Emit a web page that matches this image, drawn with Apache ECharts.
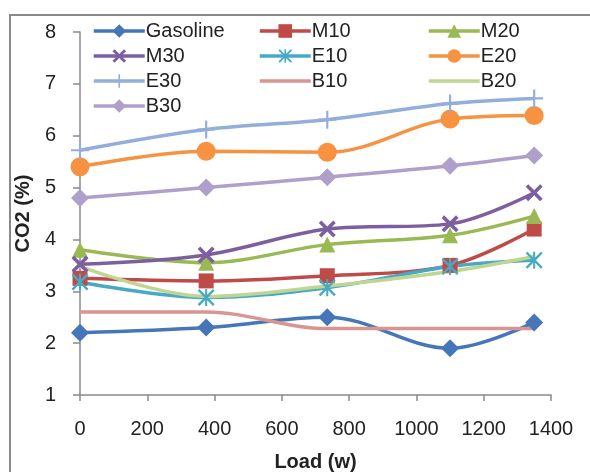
<!DOCTYPE html>
<html>
<head>
<meta charset="utf-8">
<script src="https://cdn.jsdelivr.net/npm/echarts@6/dist/echarts.min.js"></script>
<style>
  html, body { margin: 0; padding: 0; background: #fff; }
  #chart { width: 590px; height: 472px; }
</style>
</head>
<body>
<div id="chart"></div>
<script>
  // load (w)
  const loads = [0, 375, 735, 1100, 1350]

  const gasoline = [2.2, 2.3, 2.5, 1.9, 2.4]
  const m10 = [3.25, 3.2, 3.3, 3.5, 4.2]
  const m20 = [3.8, 3.55, 3.9, 4.08, 4.45]
  const m30 = [3.52, 3.7, 4.2, 4.3, 4.9]
  const e10 = [3.18, 2.88, 3.07, 3.48, 3.6]
  const e20 = [5.4, 5.7, 5.68, 6.32, 6.39]
  const e30 = [5.72, 6.12, 6.31, 6.62, 6.72]
  const b10 = [2.6, 2.6, 2.28, 2.28, 2.28]
  const b20 = [3.48, 2.9, 3.1, 3.38, 3.67]
  const b30 = [4.8, 5.0, 5.2, 5.42, 5.62]

  const yTicks = [1, 2, 3, 4, 5, 6, 7, 8]
  const xTicks = [0, 200, 400, 600, 800, 1000, 1200, 1400]

  const xMark = 'path://M0,1.5L1.5,0L5,3.5L8.5,0L10,1.5L6.5,5L10,8.5L8.5,10L5,6.5L1.5,10L0,8.5L3.5,5Z'
  const plusMark = 'path://M4.4,0H5.6V4.4H10V5.6H5.6V10H4.4V5.6H0V4.4H4.4Z'
  const starMark = 'path://M0,1L1,0L5,4L9,0L10,1L6,5L10,9L9,10L5,6L1,10L0,9L4,5Z M4.4,0H5.6V10H4.4Z'

  const font = 'Liberation Sans'

  function mkSeries (name, vals, color, symbol, size) {
    return {
      name: name,
      type: 'line',
      smooth: 0.35,
      data: loads.map((x, i) => [x, vals[i]]),
      symbol: symbol || 'none',
      symbolSize: size || 0,
      showSymbol: !!symbol,
      lineStyle: { color: color, width: 3.5 },
      itemStyle: { color: color },
      emphasis: { disabled: true }
    }
  }

  const series = [
    mkSeries('Gasoline', gasoline, '#4577B8', 'diamond', 18),
    mkSeries('M10', m10, '#BE4B48', 'rect', 15),
    mkSeries('M20', m20, '#98B954', 'triangle', 16),
    mkSeries('M30', m30, '#7D5FA0', xMark, 17),
    mkSeries('E10', e10, '#46AAC5', starMark, 17),
    mkSeries('E20', e20, '#F69240', 'circle', 19),
    mkSeries('E30', e30, '#93AEDA', plusMark, 18),
    mkSeries('B10', b10, '#D99592'),
    mkSeries('B20', b20, '#BFD593'),
    mkSeries('B30', b30, '#AE9FCB', 'diamond', 18)
  ]

  const noMarker = ['B10', 'B20']

  function mkLegend (left, names) {
    return {
      orient: 'vertical',
      left: left,
      top: 16,
      itemWidth: 51,
      itemHeight: 17,
      itemGap: 5,
      textStyle: { fontFamily: font, fontSize: 20, color: '#222', lineHeight: 20, padding: [0, 0, 0, -4] },
      lineStyle: { width: 3.5 },
      data: names.map(n => noMarker.includes(n)
        ? { name: n, itemStyle: { opacity: 0 } }
        : { name: n }),
      selectedMode: false
    }
  }

  const chart = echarts.init(document.getElementById('chart'))
  chart.setOption({
    animation: false,
    backgroundColor: '#fff',
    graphic: [{
      type: 'rect',
      shape: { x: 10, y: 15, width: 600, height: 480 },
      style: { fill: 'none', stroke: '#8a8a8a', lineWidth: 2 },
      silent: true
    }],
    legend: [
      mkLegend(87, ['Gasoline', 'M30', 'E30', 'B30']),
      mkLegend(253, ['M10', 'E10', 'B10']),
      mkLegend(422, ['M20', 'E20', 'B20'])
    ],
    grid: { left: 80, right: 39, top: 32, bottom: 77, containLabel: false, outerBoundsMode: 'none' },
    xAxis: {
      type: 'value',
      min: xTicks[0],
      max: xTicks[xTicks.length - 1],
      interval: 200,
      name: 'Load (w)',
      nameLocation: 'middle',
      nameGap: 57,
      nameTextStyle: { fontFamily: font, fontSize: 20, fontWeight: 'bold', color: '#222' },
      axisLine: { lineStyle: { color: '#8a8a8a', width: 1.5 } },
      axisTick: { inside: false, length: 6, lineStyle: { color: '#8a8a8a', width: 1.5 } },
      axisLabel: { fontFamily: font, fontSize: 20, color: '#222', margin: 24, formatter: v => String(v) },
      splitLine: { show: false }
    },
    yAxis: {
      type: 'value',
      min: yTicks[0],
      max: yTicks[yTicks.length - 1],
      interval: 1,
      name: 'CO2 (%)',
      nameLocation: 'middle',
      nameGap: 38,
      nameTextStyle: { fontFamily: font, fontSize: 20, fontWeight: 'bold', color: '#222' },
      axisLine: { show: true, lineStyle: { color: '#8a8a8a', width: 1.5 } },
      axisTick: { show: true, length: 7, lineStyle: { color: '#8a8a8a', width: 1.5 } },
      axisLabel: { fontFamily: font, fontSize: 20, color: '#222', margin: 24 },
      splitLine: { show: false }
    },
    series: series
  })
</script>
</body>
</html>
